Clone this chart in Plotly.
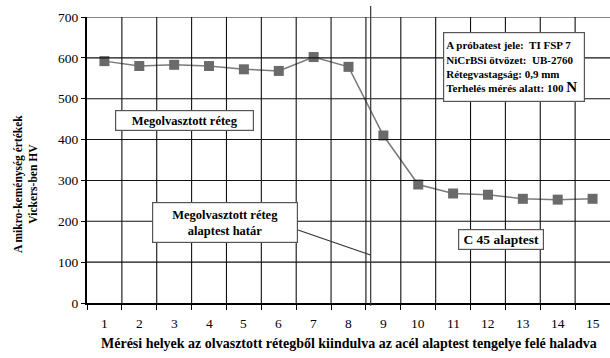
import plotly.graph_objects as go

# Measurement points along the specimen and Vickers micro-hardness values
positions = list(range(1, 16))
hardness = [592, 580, 583, 580, 572, 568, 602, 578, 410, 290, 268, 265, 255, 253, 255]
y_ticks = [0, 100, 200, 300, 400, 500, 600, 700]
boundary_pos = 8.636  # layer / base material boundary, in position units

W, H = 610, 358
L, R, T, B = 87, 0, 17, 55
pw, ph = W - L - R, H - T - B


def px(x):
    return (x - L) / pw


def py(y):
    return (H - B - y) / ph


SERIF = "Liberation Serif"
x_lo, x_hi = positions[0] - 0.5, positions[-1] + 0.5
cell_edges = [p + 0.5 for p in positions[:-1]]

fig = go.Figure()

# grid lines
grid = dict(color="#111111", width=1.1)
for v in y_ticks[1:]:
    fig.add_shape(type="line", xref="x", yref="y", x0=x_lo, x1=x_hi, y0=v, y1=v,
                  line=grid, layer="above")
for e in cell_edges:
    fig.add_shape(type="line", xref="x", yref="y", x0=e, x1=e,
                  y0=y_ticks[0], y1=y_ticks[-1], line=grid, layer="above")

fig.add_trace(go.Scatter(
    x=positions, y=hardness, mode="lines+markers",
    line=dict(color="#7a7a7a", width=1.5),
    marker=dict(symbol="square", size=10, color="#6a6a6a",
                line=dict(color="#6a6a6a", width=0)),
    showlegend=False,
))

fig.update_layout(
    template="none",
    width=W, height=H,
    margin=dict(l=L, r=R, t=T, b=B),
    paper_bgcolor="white", plot_bgcolor="white",
    font=dict(family=SERIF, size=12, color="black"),
    xaxis=dict(
        range=[x_lo, x_hi], tickvals=[x_lo] + cell_edges + [x_hi],
        showgrid=False, zeroline=False,
        showline=True, linecolor="black", linewidth=2,
        ticks="outside", ticklen=5, tickcolor="black",
        showticklabels=False,
    ),
    yaxis=dict(
        range=[0, 700], tickvals=y_ticks,
        showgrid=False, zeroline=False,
        showline=True, linecolor="black", linewidth=2,
        ticks="outside", ticklen=4, tickcolor="black",
        tickfont=dict(family=SERIF, size=13.5),
    ),
)

# position labels under the axis
for p in positions:
    fig.add_annotation(text=str(p), xref="x", yref="paper", x=p, y=py(323),
                       xanchor="center", yanchor="middle", showarrow=False,
                       font=dict(family=SERIF, size=13.5, color="black"))

# layer / base material boundary
fig.add_shape(type="line", xref="x", yref="paper",
              x0=boundary_pos, x1=boundary_pos, y0=-0.01, y1=py(6),
              line=dict(color="#333333", width=1.2))

# leader line from the boundary label to the boundary
fig.add_shape(type="line", xref="paper", yref="paper",
              x0=px(298), y0=py(230), x1=px(370.5), y1=py(255),
              line=dict(color="#333333", width=1.2))

box = dict(xref="paper", yref="paper", showarrow=False,
           xanchor="center", yanchor="middle",
           bgcolor="white", bordercolor="#555555", borderwidth=1.2, borderpad=2,
           font=dict(family=SERIF, size=12.5, color="black"))

fig.add_annotation(text="<b>Megolvasztott réteg</b>",
                   x=px(184.5), y=py(120.5), width=133, height=15, **box)
fig.add_annotation(text="<b>Megolvasztott réteg<br>alaptest határ</b>",
                   x=px(225), y=py(222.5), width=140, height=35, **box)
box_c45 = dict(box)
box_c45["font"] = dict(family=SERIF, size=13.5, color="black")
fig.add_annotation(text="<b>C 45 alaptest</b>",
                   x=px(501), y=py(239.5), width=80, height=15, **box_c45)

info = dict(box)
info["font"] = dict(family=SERIF, size=11, color="black")
fig.add_annotation(
    text=("<b>A próbatest jele:  TI FSP 7<br>"
          "NiCrBSi ötvözet:  UB-2760<br>"
          "Rétegvastagság: 0,9 mm<br>"
          "Terhelés mérés alatt: 100 <span style='font-size:15px'>N</span></b>"),
    x=px(514), y=py(67), width=136, height=64, align="left", **info)

# axis titles
fig.add_annotation(
    text="<b>A mikro-keménység értékek<br>Vickers-ben HV</b>",
    xref="paper", yref="paper", x=px(25), y=py(184), textangle=-90,
    xanchor="center", yanchor="middle",
    showarrow=False, font=dict(family=SERIF, size=11.5, color="black"))
fig.add_annotation(
    text="<b>Mérési helyek az olvasztott rétegből kiindulva az acél alaptest tengelye felé haladva</b>",
    xref="paper", yref="paper", x=px(349), y=py(343),
    xanchor="center", yanchor="middle",
    showarrow=False, font=dict(family=SERIF, size=14, color="black"))

fig.write_html("out.html")
